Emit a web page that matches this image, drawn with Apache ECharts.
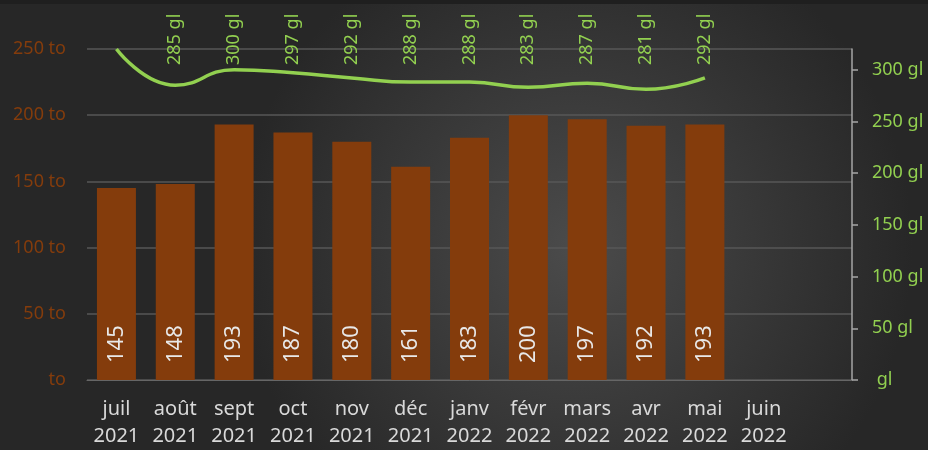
<!DOCTYPE html>
<html>
<head>
<meta charset="utf-8">
<script src="https://cdn.jsdelivr.net/npm/echarts@6/dist/echarts.min.js"></script>
<style>
  html, body { margin: 0; padding: 0; background: #2b2b2b; }
  #chart { width: 928px; height: 450px; }
</style>
</head>
<body>
<div id="chart"></div>
<script>
// mois (la dernière catégorie est vide, comme dans le graphique Excel)
const months = ["juil\n2021", "août\n2021", "sept\n2021", "oct\n2021", "nov\n2021", "déc\n2021",
  "janv\n2022", "févr\n2022", "mars\n2022", "avr\n2022", "mai\n2022", "juin\n2022", ""];
// tonnes (barres)
const tonnes = [145, 148, 193, 187, 180, 161, 183, 200, 197, 192, 193, null, null];
// g/l (courbe) - le premier point sort du cadre
const gl = [320, 285, 300, 297, 292, 288, 288, 283, 287, 281, 292, null, null];

const font = "Noto Sans";
let myChart = echarts.init(document.getElementById("chart"));

myChart.setOption({
  backgroundColor: {
    type: "radial", x: 0.62, y: 0.55, r: 0.75,
    colorStops: [
      { offset: 0, color: "#4b4b4b" },
      { offset: 1, color: "#272727" },
    ],
  },
  animation: false,
  textStyle: { fontFamily: font },
  // bandeau sombre en haut
  graphic: [
    { type: "rect", left: 0, top: 0, shape: { width: 928, height: 4 }, style: { fill: "#1f1f1f" } },
  ],
  grid: { left: 87, right: 76, top: 49, bottom: 67 },
  xAxis: {
    type: "category",
    data: months,
    axisTick: { show: false },
    axisLine: { lineStyle: { color: "#666666", width: 1 } },
    axisLabel: { color: "#d9d9d9", fontSize: 20, lineHeight: 27, margin: 16, interval: 0 },
  },
  yAxis: [
    {
      type: "value",
      min: 0, max: 250, interval: 50,
      axisLine: { show: false },
      axisTick: { show: false },
      axisLabel: {
        color: "#843c0c", fontSize: 18, margin: 21,
        formatter: (v) => (v === 0 ? "to" : v + " to"),
      },
      splitLine: { lineStyle: { color: "#575757", width: 1.5 } },
    },
    {
      type: "value",
      min: 0, max: 320, interval: 50,
      position: "right",
      axisLine: { show: true, lineStyle: { color: "#a6a6a6", width: 1.5 } },
      axisTick: { show: true, length: 6, lineStyle: { color: "#a6a6a6", width: 1.5 } },
      axisLabel: {
        color: "#92d050", fontSize: 18, margin: 20, align: "left", showMaxLabel: false,
        formatter: (v) => (v === 0 ? " gl" : v + " gl"),
      },
      splitLine: { show: false },
    },
  ],
  series: [
    {
      type: "bar",
      data: tonnes,
      barWidth: 39,
      itemStyle: { color: "#843c0c" },
      label: {
        show: true,
        position: "insideBottom",
        rotate: 90,
        align: "left",
        verticalAlign: "middle",
        distance: 17,
        color: "#e8e8e8",
        fontSize: 22,
      },
    },
    {
      type: "line",
      yAxisIndex: 1,
      data: gl.map((v, i) => (i === 0 ? { value: v, label: { show: false } } : v)),
      smooth: true,
      symbol: "circle",
      symbolSize: 1,
      itemStyle: { color: "rgba(0,0,0,0)" },
      lineStyle: { color: "#92d050", width: 3.5 },
      label: {
        show: true,
        position: "top",
        rotate: 90,
        align: "left",
        verticalAlign: "middle",
        color: "#92d050",
        fontSize: 18,
        formatter: (p) => p.value + " gl",
      },
      labelLayout: (params) => ({
        x: params.rect.x + params.rect.width / 2,
        y: 65,
        align: "left",
        verticalAlign: "middle",
      }),
    },
  ],
});

window.addEventListener("resize", () => {
  myChart.resize();
});
</script>
</body>
</html>
